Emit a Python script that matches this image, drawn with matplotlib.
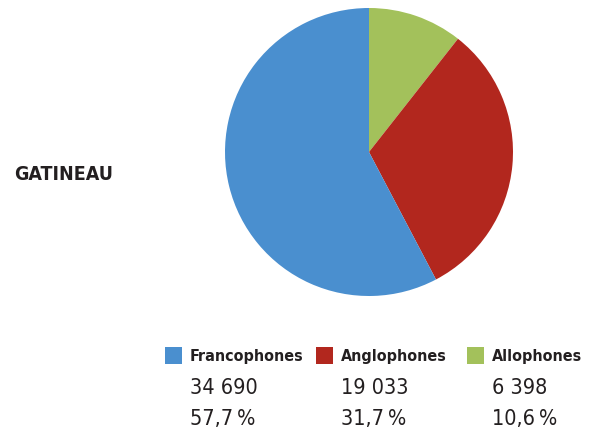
import matplotlib.pyplot as plt
from matplotlib.patches import Rectangle

# Données
categories = ['Francophones', 'Anglophones', 'Allophones']
effectifs = ['34 690', '19 033', '6 398']
pourcentages = [57.7, 31.7, 10.6]
pct_labels = ['57,7\u2009%', '31,7\u2009%', '10,6\u2009%']
couleurs = ['#4a8fcf', '#b2271e', '#a3c15b']

W, H = 591, 433
fig = plt.figure(figsize=(W / 100, H / 100), dpi=100)
fig.patch.set_facecolor('white')

# Camembert (centre ~ (369,152), rayon ~144 px)
cx, cy, r = 369, 152, 144
ax = fig.add_axes([(cx - r) / W, (H - cy - r) / H, 2 * r / W, 2 * r / H])
ax.pie(pourcentages[::-1], colors=couleurs[::-1], startangle=90,
       counterclock=False, radius=1)
ax.set_xlim(-1, 1)
ax.set_ylim(-1, 1)
ax.set_aspect('equal')
ax.axis('off')

police = ['DejaVu Sans', 'DejaVu Sans']

fig.text(14 / W, 1 - 175 / H, 'GATINEAU', family=police, fontweight='bold',
         stretch='condensed', fontsize=14, color='#231f20', va='center', ha='left')

# Légende
x_carre = [165, 316, 467]
for i, cat in enumerate(categories):
    x0 = x_carre[i]
    fig.patches.append(Rectangle((x0 / W, 1 - 364 / H), 17 / W, 17 / H,
                                 transform=fig.transFigure,
                                 facecolor=couleurs[i], edgecolor='none'))
    fig.text((x0 + 25) / W, 1 - 357 / H, cat, family=police, fontweight='bold',
             stretch='condensed', fontsize=11.5, color='#231f20',
             va='center', ha='left')
    fig.text((x0 + 25) / W, 1 - 388 / H, effectifs[i], family=police,
             stretch='condensed', fontsize=15.5, color='#231f20',
             va='center', ha='left')
    fig.text((x0 + 25) / W, 1 - 419 / H, pct_labels[i], family=police,
             stretch='condensed', fontsize=15.5, color='#231f20',
             va='center', ha='left')

fig.savefig('out.png', dpi=100)
